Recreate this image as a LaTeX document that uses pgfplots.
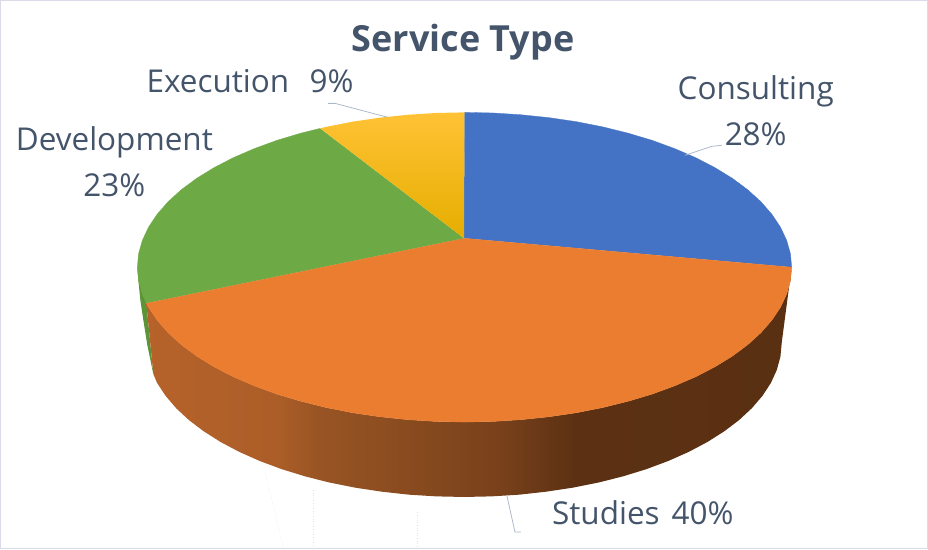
\documentclass[border=0pt]{standalone}
\usepackage{fontspec}
\setmainfont{Open Sans}
\usepackage{pgfplots}
\pgfplotsset{compat=1.18}
\definecolor{txt}{HTML}{44546A}
\definecolor{leader}{HTML}{ADB9CA}
\definecolor{frameline}{HTML}{DADAE8}
\definecolor{cblue}{HTML}{4472C4}
\definecolor{corange}{HTML}{EA7D30}
\definecolor{cgreen}{HTML}{6DAA45}
\definecolor{cgreenside}{HTML}{5C9438}
\definecolor{yellowtop}{HTML}{FFC235}
\definecolor{yellowmid}{HTML}{FFC000}
\definecolor{yellowlow}{HTML}{E5AE00}
% wall of the pie: x=146 sits at 25bp, x=792 at 75bp
\pgfdeclarehorizontalshading{wallshade}{100bp}{
  rgb(0bp)=(0.714,0.384,0.165);
  rgb(25bp)=(0.714,0.384,0.165);
  rgb(35bp)=(0.675,0.369,0.157);
  rgb(38.5bp)=(0.596,0.329,0.141);
  rgb(44.7bp)=(0.541,0.298,0.122);
  rgb(52.4bp)=(0.471,0.255,0.106);
  rgb(58.2bp)=(0.361,0.192,0.075);
  rgb(75bp)=(0.353,0.188,0.071);
  rgb(100bp)=(0.353,0.188,0.071)}
\begin{document}
\begin{tikzpicture}
\begin{axis}[
    scale only axis,
    width=928pt, height=549pt,
    xmin=0, xmax=928, ymin=0, ymax=549,
    y dir=reverse,
    ticks=none,
    axis line style={draw=frameline, line width=1pt},
]

% faint dotted traces under the pie
\addplot[draw=black!10, dotted, line width=0.6pt] coordinates {(265,473) (283,547)};
\addplot[draw=black!10, dotted, line width=0.6pt] coordinates {(313,490) (313,547)};
\addplot[draw=black!10, dotted, line width=0.6pt] coordinates {(417,512) (417,547)};

% green sliver of wall on the left
\addplot[fill=cgreenside, draw=none] coordinates {
(137,267) (138,280) (140,300) (143,320) (147,345) (153,374) (146,303)};

% wall of the studies slice
\addplot[draw=none, shade, shading=wallshade] coordinates {
(792.0,267) (790.8,280.5) (787.0,293.9) (780.8,307.1) (772.2,320.0) (761.3,332.5)
(748.1,344.5) (732.8,355.9) (715.4,366.6) (696.1,376.6) (675.0,385.7) (652.4,394.0)
(628.3,401.2) (602.9,407.5) (576.5,412.7) (549.3,416.7) (521.4,419.6) (493.1,421.4)
(464.5,422) (435.9,421.4) (407.6,419.6) (379.7,416.7) (352.5,412.7) (326.1,407.5)
(300.7,401.2) (276.6,394.0) (254.0,385.7) (232.9,376.6) (213.6,366.6) (196.2,355.9)
(180.9,344.5) (167.7,332.5) (156.8,320.0) (148.2,307.1) (146,303)
(153,374) (156.8,382.9) (165.2,395.7) (175.8,408.1) (188.6,420) (203.5,431.3)
(220.4,442) (239.1,451.9) (259.6,461) (281.6,469.2) (305,476.4) (329.6,482.6)
(355.2,487.7) (381.7,491.7) (408.8,494.7) (436.3,496.4) (464,497) (491.7,496.4)
(519.2,494.7) (546.3,491.7) (572.8,487.7) (598.4,482.6) (623,476.4) (646.4,469.2)
(668.4,461) (688.9,451.9) (707.6,442) (724.5,431.3) (739.4,420) (752.2,408.1)
(762.8,395.7) (771.2,382.9) (777.2,369.7) (780.8,356.4) (782,343)};

% top faces
\addplot[fill=cblue, draw=cblue, line width=0.3pt] coordinates {
(464,238) (464.5,112) (493.1,112.6) (521.4,114.4) (549.3,117.3) (576.5,121.3) (602.9,126.5)
(628.3,132.8) (652.4,140.0) (675.0,148.3) (696.1,157.4) (715.4,167.4) (732.8,178.1)
(748.1,189.5) (761.3,201.5) (772.2,214.0) (780.8,226.9) (787.0,240.1) (790.8,253.5) (792,267)};

\addplot[fill=cgreen, draw=cgreen, line width=0.3pt] coordinates {
(464,238) (146,303) (142.0,293.9) (138.2,280.5) (137.0,267) (138.2,253.5) (142.0,240.1)
(148.2,226.9) (156.8,214.0) (167.7,201.5) (180.9,189.5) (196.2,178.1) (213.6,167.4)
(232.9,157.4) (254.0,148.3) (276.6,140.0) (300.7,132.8) (320,128)};

\addplot[draw=none, top color=yellowtop, middle color=yellowmid, bottom color=yellowlow] coordinates {
(464,238) (320,128) (326.1,126.5) (352.5,121.3) (379.7,117.3) (407.6,114.4) (435.9,112.6) (464.5,112)};

\addplot[fill=corange, draw=corange, line width=0.3pt] coordinates {
(464,238) (792,267) (790.8,280.5) (787.0,293.9) (780.8,307.1) (772.2,320.0) (761.3,332.5)
(748.1,344.5) (732.8,355.9) (715.4,366.6) (696.1,376.6) (675.0,385.7) (652.4,394.0)
(628.3,401.2) (602.9,407.5) (576.5,412.7) (549.3,416.7) (521.4,419.6) (493.1,421.4)
(464.5,422) (435.9,421.4) (407.6,419.6) (379.7,416.7) (352.5,412.7) (326.1,407.5)
(300.7,401.2) (276.6,394.0) (254.0,385.7) (232.9,376.6) (213.6,366.6) (196.2,355.9)
(180.9,344.5) (167.7,332.5) (156.8,320.0) (148.2,307.1) (146,303)};

% leader lines
\addplot[draw=leader, line width=0.8pt] coordinates {(328,103) (335,103) (388,117)};
\addplot[draw=leader, line width=0.8pt] coordinates {(722,145) (712,146) (685,155)};
\addplot[draw=leader, line width=0.8pt] coordinates {(507,496) (515,532) (521,532)};

% labels
\node[anchor=base, text=txt, font=\fontsize{36}{36}\selectfont\bfseries] at (axis cs:463,51) {Service Type};
\node[anchor=base west, inner sep=0pt, text=txt, font=\fontsize{31.5}{32}\selectfont] at (axis cs:146,92) {Execution\hspace{0.65em}9\%};
\node[anchor=base, inner sep=0pt, text=txt, font=\fontsize{31.5}{32}\selectfont] at (axis cs:756,99) {Consulting};
\node[anchor=base, inner sep=0pt, text=txt, font=\fontsize{31.5}{32}\selectfont] at (axis cs:756,145) {28\%};
\node[anchor=base, inner sep=0pt, text=txt, font=\fontsize{31.5}{32}\selectfont] at (axis cs:114,150) {Development};
\node[anchor=base, inner sep=0pt, text=txt, font=\fontsize{31.5}{32}\selectfont] at (axis cs:114,196) {23\%};
\node[anchor=base west, inner sep=0pt, text=txt, font=\fontsize{31.5}{32}\selectfont] at (axis cs:552,525) {Studies\hspace{0.38em}40\%};

\end{axis}
\end{tikzpicture}
\end{document}
